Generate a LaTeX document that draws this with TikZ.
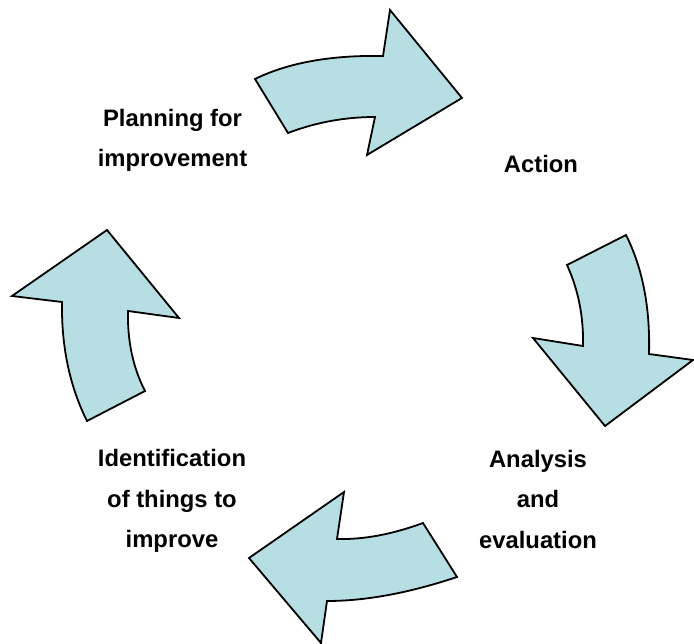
\documentclass[tikz,border=0pt]{standalone}
\usepackage{fontspec}
\setmainfont{Liberation Sans}
\definecolor{cyclefill}{RGB}{183,222,226}
\begin{document}
\begin{tikzpicture}[x=1pt,y=-1pt,
  cyclearrow/.style={fill=cyclefill,draw=black,line width=1.8pt,line join=miter},
  stage/.style={font=\fontsize{23.8}{40.5}\selectfont\bfseries,align=center,anchor=base,inner sep=0pt}]
\useasboundingbox (0,0) rectangle (694,644);

% top arrow, pointing right
\draw[cyclearrow] (255,79) .. controls (288.3,62.7) and (331,55) .. (383,56)
  -- (390,10) -- (462,98) -- (367,155) -- (375,117)
  .. controls (345,117) and (316,122.3) .. (288,133) -- cycle;

% right arrow, pointing down
\draw[cyclearrow] (567,265) -- (626,235)
  .. controls (642.7,268.3) and (650.3,308) .. (649,354)
  -- (693,360) -- (605,426) -- (533,338) -- (583,346)
  .. controls (583.7,316.7) and (578.3,289.7) .. (567,265) -- cycle;

% bottom arrow, pointing left
\draw[cyclearrow] (423,523) -- (457,577)
  .. controls (409,593) and (365.7,601) .. (327,601)
  -- (321,643) -- (249,558) -- (344,492) -- (337,539)
  .. controls (363.7,539.7) and (392.3,534.3) .. (423,523) -- cycle;

% left arrow, pointing up
\draw[cyclearrow] (87,421) -- (145,391)
  .. controls (133,367.7) and (127.3,341) .. (128,311)
  -- (179,318) -- (107,230) -- (12,296) -- (62,302)
  .. controls (61.3,346.7) and (69.7,386.3) .. (87,421) -- cycle;

% stage labels (base anchor sits on the last line)
\node[stage] (plan) at (172.5,166.7) {Planning for\\improvement};
\node[stage] (act) at (541,173) {Action};
\node[stage] (anal) at (538,548) {Analysis\\and\\evaluation};
\node[stage] (ident) at (172,547.5) {Identification\\of things to\\improve};
\end{tikzpicture}
\end{document}
